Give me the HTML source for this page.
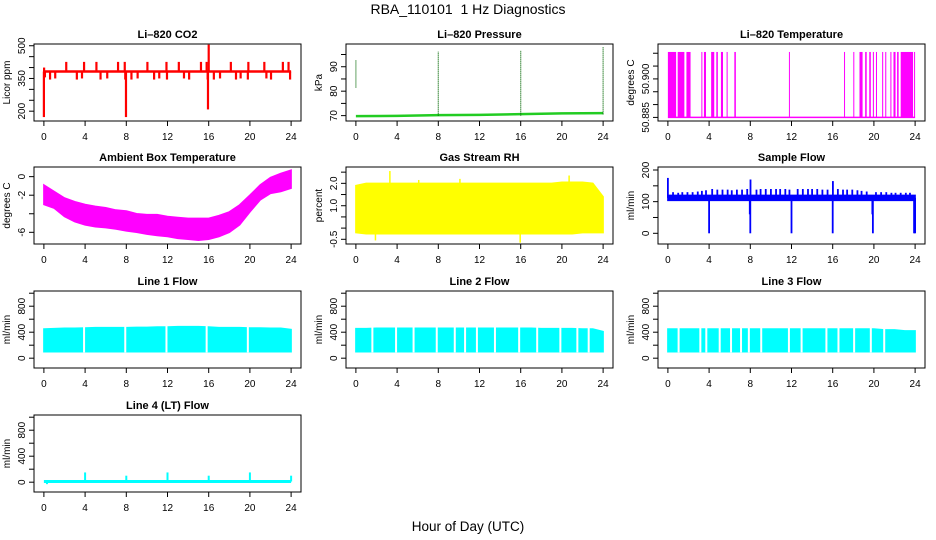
<!DOCTYPE html>
<html><head><meta charset="utf-8"><style>
html,body{margin:0;padding:0;background:#fff}
svg{display:block;font-family:"Liberation Sans",Arial,sans-serif}
</style></head><body>
<svg id="c" width="936" height="540" viewBox="0 0 936 540" xmlns="http://www.w3.org/2000/svg">
<text x="468" y="14" text-anchor="middle" font-size="14" xml:space="preserve">RBA_110101  1 Hz Diagnostics</text>
<text x="468" y="531" text-anchor="middle" font-size="13.5">Hour of Day (UTC)</text>
</svg>
<script>
// ---- data ----
const xTicks = [0,4,8,12,16,20,24];
const envHours = [0,1,2,3,4,5,6,7,8,9,10,11,12,13,14,15,16,17,18,19,20,21,22,23,24];

// CO2
const co2Base = 382;
const co2SpikeHours = [2.17,3.9,5.1,7.2,7.85,10.05,11.9,13.1,15.25,15.8,18.15,19.85,21.4,23.2,23.75,0.1,0.6,1.1,3.2,3.7,5.5,6.15,7.9,8.5,9.1,10.7,11.2,11.95,13.6,14.1,15.9,16.5,17.1,18.65,19.1,19.8,21.6,22.05,23.9,0.0,0.02,7.97,15.93,16.0];
const co2SpikeVals  = [426,426,426,426,426,426,426,426,426,426,426,426,426,426,426,355,345,350,345,350,345,350,345,345,350,345,350,345,350,345,345,345,350,345,350,345,350,345,345,173,400,173,208,505];

// Pressure
const presHours = [0,4,8,12,16,20,24];
const presVals = [69.8,69.9,70.2,70.3,70.6,70.9,71.0];
const presSpikeHours = [0.0,8.0,16.0,24.0];
const presSpikeLow = [81.5,70,70,70.5];
const presSpikeHigh = [92.7,96.3,96.5,98.2];

// Li-820 temperature
const tempLow = 50.885;
const tempHigh = 50.9105;
const tempSegStart = [0,0.95,1.8,3.25,3.5,4.2,4.7,5.15,5.7,6.45,11.75,17.1,18.0,18.6,19.15,19.55,19.9,20.2,20.8,21.1,21.6,21.9,22.25,22.6,23.9];
const tempSegEnd   = [0.8,1.6,2.2,3.3,3.7,4.5,4.85,5.35,5.8,6.6,11.8,17.15,18.05,18.9,19.3,19.7,20.0,20.3,20.9,21.2,21.7,22.1,22.4,23.8,23.95];

// Ambient box temperature
const ambUpper = [-0.9,-1.6,-2.3,-2.7,-3.0,-3.2,-3.35,-3.6,-3.7,-4.0,-4.1,-4.1,-4.3,-4.4,-4.5,-4.5,-4.5,-4.2,-3.8,-3.05,-2.0,-0.9,-0.1,0.35,0.7];
const ambLower = [-3.0,-3.4,-4.3,-4.85,-5.2,-5.4,-5.5,-5.65,-5.85,-6.0,-6.2,-6.35,-6.45,-6.65,-6.75,-6.85,-6.75,-6.45,-6.0,-5.2,-3.8,-2.5,-1.8,-1.6,-1.25];

// Gas stream RH
const rhUpper = [1.9,2.0,2.0,2.0,2.0,2.0,2.0,2.0,2.0,2.0,2.0,2.0,2.0,2.0,2.0,2.0,2.0,2.0,2.0,2.0,2.05,2.05,2.05,2.0,1.4];
const rhLower = [-0.2,-0.25,-0.25,-0.25,-0.25,-0.25,-0.25,-0.25,-0.25,-0.25,-0.25,-0.25,-0.25,-0.25,-0.25,-0.25,-0.25,-0.25,-0.25,-0.25,-0.25,-0.25,-0.2,-0.2,-0.2];
const rhSpikeHours = [3.3,1.9,15.95,20.7,10.1,6.1];
const rhSpikeVals = [2.55,-0.55,-0.65,2.35,2.2,2.15];

// Sample flow
const sfUpper = 120, sfLower = 104;
const sfSpikeHours = [0.5,1.0,1.4,1.9,2.4,2.9,3.3,3.7,4.3,4.8,5.3,5.8,6.2,6.7,7.2,7.7,8.6,9.0,9.5,10.0,10.5,10.9,11.4,11.8,12.6,13.1,13.6,14.0,14.5,15.0,15.5,16.5,17.0,17.4,17.9,18.4,18.8,19.3,20.2,20.7,21.2,21.7,22.1,22.6,23.1,23.5,4.0,8.0,12.0,16.0,19.9,23.9,24.0,7.95,19.85,0.0,8.02,16.02];
const sfSpikeVals  = [130,128,130,130,130,132,134,136,140,138,138,138,136,138,138,140,138,140,140,140,140,140,140,138,140,140,140,140,140,138,138,140,138,138,138,136,134,132,130,130,130,128,128,128,128,128,0,0,0,0,0,0,0,60,60,175,170,165];

// Line flows
const l1Top = [450,455,460,460,465,470,470,470,470,475,475,480,480,485,485,485,480,470,470,470,465,465,460,460,440];
const l1Gaps = [3.9,7.9,11.9,15.8,19.8];
const l2Top = [455,455,460,460,460,460,460,460,460,460,460,460,460,460,460,460,460,460,455,455,455,455,450,450,410];
const l2Gaps = [1.6,3.9,5.6,7.85,9.6,10.6,11.75,13.5,15.85,17.6,19.85,21.5,22.6];
const l3Top = [450,450,450,450,450,450,450,450,450,450,450,450,450,450,450,450,450,450,450,450,450,435,435,420,420];
const l3Gaps = [1.04,3.15,3.73,5.03,6.13,7.1,7.86,9.06,11.75,12.98,15.39,16.56,18.08,19.7,21.0];
const flowLow = 100;
const l4Base = 10;
const l4SpikeHours = [0.3,4.0,8.0,12.0,16.0,20.0,24.0];
const l4SpikeVals = [-30,150,100,150,100,150,100];

// ---- drawing ----
const svg = document.getElementById('c');
const NS = 'http://www.w3.org/2000/svg';
const colX = [34,346,658], rowY = [44,167,291,415], BW = 267, BH = 77;
function mk(tag, attrs, parent){const e=document.createElementNS(NS,tag);for(const k in attrs)e.setAttribute(k,attrs[k]);(parent||svg).appendChild(e);return e;}

function panel(o){
  const g = mk('g',{});
  
  
  const bx=colX[o.col], by=rowY[o.row];
  const sx = h => bx + (h+0.96)/25.92*BW;
  const sy = v => by + BH - (v-o.ylim[0])/(o.ylim[1]-o.ylim[0])*BH;
  const t = mk('text',{x:bx+BW/2,y:by-6,'text-anchor':'middle','font-size':11,'font-weight':'bold'},g);
  t.textContent = o.title;
  
  
  const plot = mk('g',{},g);
  
  
  o.draw(plot, sx, sy);
  const box = mk('rect',{x:bx,y:by,width:BW,height:BH,fill:'none',stroke:'#000','stroke-width':1},g);
  
  
  xTicks.forEach(h=>{
    const x=sx(h);
    mk('line',{x1:x,x2:x,y1:by+BH,y2:by+BH+5,stroke:'#000'},g);
    const l=mk('text',{x:x,y:by+BH+19,'text-anchor':'middle','font-size':10},g);
    l.textContent=h;
    
    
  });
  o.yticks.forEach(v=>{
    const y=sy(v);
    mk('line',{x1:bx-5,x2:bx,y1:y,y2:y,stroke:'#000'},g);
  });
  o.ylabels.forEach(v=>{
    const y=sy(v), x=bx-9;
    const l=mk('text',{x:x,y:y,'text-anchor':'middle','font-size':10,transform:`rotate(-90 ${x} ${y})`},g);
    l.textContent = o.fmt ? o.fmt(v) : v;
    
    
  });
  const yx=bx-24, yy=by+BH/2;
  const yt=mk('text',{x:yx,y:yy,'text-anchor':'middle','font-size':10,transform:`rotate(-90 ${yx} ${yy})`},g);
  yt.textContent=o.ylab;
  
  
}
function vline(g,x,y1,y2,color,w,dash){const a={x1:x,x2:x,y1:y1,y2:y2,stroke:color,'stroke-width':w};if(dash)a['stroke-dasharray']=dash;return mk('line',a,g);}
function band(g,sx,sy,hrs,up,lo,color){
  let d='M'+hrs.map((h,i)=>sx(h)+','+sy(up[i])).join('L');
  d+='L'+hrs.slice().reverse().map((h,i)=>sx(h)+','+sy(lo[hrs.length-1-i])).join('L')+'Z';
  const p=mk('path',{d:d,fill:color,stroke:color,'stroke-width':1.5},g);
  
  
}
function flowPanel(name,title,col,row,top,gaps){
  panel({name:name,title:title,col:col,row:row,ylim:[-151,1034],yticks:[0,200,400,600,800,1000],ylabels:[0,400,800],ylab:'ml/min',
    draw:(g,sx,sy)=>{
      band(g,sx,sy,envHours,top,envHours.map(()=>flowLow),'#00ffff');
      gaps.forEach(h=>{const r=mk('rect',{x:sx(h)-1,y:sy(520),width:2,height:sy(90)-sy(520),fill:'#fff'},g);
        });
    }});
}

panel({name:'co2-panel',title:'Li\u2013820 CO2',col:0,row:0,ylim:[155,508],yticks:[200,250,300,350,400,450,500],ylabels:[200,350,500],ylab:'Licor ppm',
  draw:(g,sx,sy)=>{
    const b=mk('line',{x1:sx(0),x2:sx(24),y1:sy(co2Base),y2:sy(co2Base),stroke:'#ff0000','stroke-width':2.5},g);
    
    co2SpikeHours.forEach((h,i)=>{const l=vline(g,sx(h),sy(co2Base),sy(co2SpikeVals[i]),'#ff0000',2.2);
      });
  }});
panel({name:'pressure-panel',title:'Li\u2013820 Pressure',col:1,row:0,ylim:[67.8,99.3],yticks:[70,75,80,85,90,95],ylabels:[70,80,90],ylab:'kPa',
  draw:(g,sx,sy)=>{
    const p=mk('polyline',{points:presHours.map((h,i)=>sx(h)+','+sy(presVals[i])).join(' '),fill:'none',stroke:'#22cc22','stroke-width':2.5},g);
    
    presSpikeHours.forEach((h,i)=>{const l=vline(g,sx(h),sy(presSpikeLow[i]),sy(presSpikeHigh[i]),'#006600',1.2,'1,1');
      });
  }});
panel({name:'temperature-panel',title:'Li\u2013820 Temperature',col:2,row:0,ylim:[50.8836,50.9136],yticks:[50.885,50.89,50.895,50.9,50.905,50.91],ylabels:[50.885,50.9],fmt:v=>v.toFixed(3),ylab:'degrees C',
  draw:(g,sx,sy)=>{
    const b=mk('line',{x1:sx(0),x2:sx(24),y1:sy(tempLow),y2:sy(tempLow),stroke:'#ff00ff','stroke-width':1.5},g);
    
    tempSegStart.forEach((s,i)=>{const x1=sx(s),x2=Math.max(sx(tempSegEnd[i]),x1+1);
      const r=mk('rect',{x:x1,y:sy(tempHigh),width:x2-x1,height:sy(tempLow)-sy(tempHigh),fill:'#ff00ff'},g);
      });
  }});
panel({name:'ambient-temp-panel',title:'Ambient Box Temperature',col:0,row:1,ylim:[-7.26,1.04],yticks:[-6,-4,-2,0],ylabels:[-6,-2,0],ylab:'degrees C',
  draw:(g,sx,sy)=>{ band(g,sx,sy,envHours,ambUpper,ambLower,'#ff00ff'); }});
panel({name:'rh-panel',title:'Gas Stream RH',col:1,row:1,ylim:[-0.71,2.73],yticks:[-0.5,0,0.5,1,1.5,2,2.5],ylabels:[-0.5,1,2],fmt:v=>v.toFixed(1),ylab:'percent',
  draw:(g,sx,sy)=>{
    band(g,sx,sy,envHours,rhUpper,rhLower,'#ffff00');
    rhSpikeHours.forEach((h,i)=>{const l=vline(g,sx(h),sy(1),sy(rhSpikeVals[i]),'#ffff00',1.5);
      });
  }});
panel({name:'sample-flow-panel',title:'Sample Flow',col:2,row:1,ylim:[-33.8,209.5],yticks:[0,50,100,150,200],ylabels:[0,100,200],ylab:'ml/min',
  draw:(g,sx,sy)=>{
    band(g,sx,sy,[0,24],[sfUpper,sfUpper],[sfLower,sfLower],'#0000ff');
    sfSpikeHours.forEach((h,i)=>{const l=vline(g,sx(h),sy(112),sy(sfSpikeVals[i]),'#0000ff',1.8);
      });
  }});
flowPanel('line1-flow-panel','Line 1 Flow',0,2,l1Top,l1Gaps);
flowPanel('line2-flow-panel','Line 2 Flow',1,2,l2Top,l2Gaps);
flowPanel('line3-flow-panel','Line 3 Flow',2,2,l3Top,l3Gaps);
panel({name:'line4-flow-panel',title:'Line 4 (LT) Flow',col:0,row:3,ylim:[-151,1034],yticks:[0,200,400,600,800,1000],ylabels:[0,400,800],ylab:'ml/min',
  draw:(g,sx,sy)=>{
    const b=mk('line',{x1:sx(0),x2:sx(24),y1:sy(l4Base),y2:sy(l4Base),stroke:'#00ffff','stroke-width':3},g);
    
    l4SpikeHours.forEach((h,i)=>{const l=vline(g,sx(h),sy(l4Base),sy(l4SpikeVals[i]),'#00ffff',2);
      });
  }});
</script>
</body></html>
